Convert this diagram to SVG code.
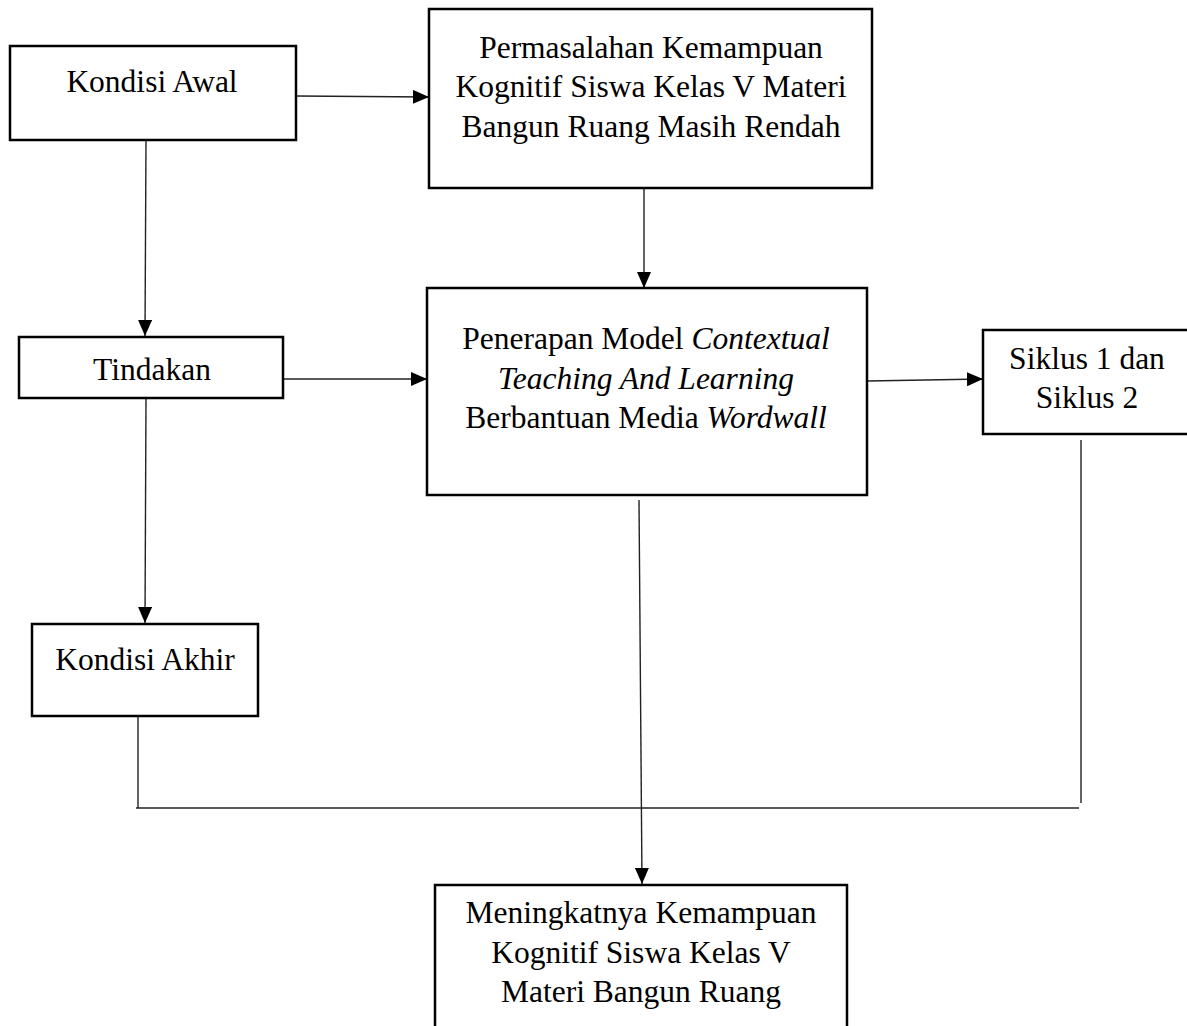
<svg xmlns="http://www.w3.org/2000/svg" width="1187" height="1026" viewBox="0 0 1187 1026">
<style>
.box{fill:#fff;stroke:#000;stroke-width:2.5}
.t{font-family:"Liberation Serif","Times New Roman",serif;font-size:31.5px;fill:#000;text-anchor:middle}
.i{font-style:italic}
.c{fill:none;stroke:#222;stroke-width:1.4}
</style>
<defs>
<marker id="ah" markerUnits="userSpaceOnUse" markerWidth="16" markerHeight="14" refX="16" refY="7" orient="auto">
<path d="M0,0 L16,7 L0,14 z" fill="#000"/>
</marker>
</defs>
<rect width="1187" height="1026" fill="#fff"/>
<g id="connectors">
<line class="c" x1="296" y1="96" x2="429" y2="97" marker-end="url(#ah)"/>
<line class="c" x1="146" y1="140" x2="145" y2="336" marker-end="url(#ah)"/>
<line class="c" x1="644" y1="188" x2="644" y2="288" marker-end="url(#ah)"/>
<line class="c" x1="283" y1="379" x2="427" y2="379" marker-end="url(#ah)"/>
<line class="c" x1="867" y1="381" x2="983" y2="379" marker-end="url(#ah)"/>
<line class="c" x1="146" y1="398" x2="145" y2="623" marker-end="url(#ah)"/>
<line class="c" x1="639" y1="500" x2="642" y2="884" marker-end="url(#ah)"/>
<line class="c" x1="138" y1="716" x2="138" y2="808"/>
<line class="c" x1="136" y1="808" x2="1079" y2="808"/>
<line class="c" x1="1081" y1="440" x2="1081" y2="803"/>
</g>
<g id="kondisi-awal">
<rect class="box" x="10" y="46" width="286" height="94"/>
<text class="t" x="152" y="92">Kondisi Awal</text>
</g>
<g id="permasalahan">
<rect class="box" x="429" y="9" width="443" height="179"/>
<text class="t" x="651" y="58">Permasalahan Kemampuan</text>
<text class="t" x="651" y="97">Kognitif Siswa Kelas V Materi</text>
<text class="t" x="651" y="137">Bangun Ruang Masih Rendah</text>
</g>
<g id="tindakan">
<rect class="box" x="19" y="337" width="264" height="61"/>
<text class="t" x="152" y="380">Tindakan</text>
</g>
<g id="penerapan">
<rect class="box" x="427" y="288" width="440" height="207"/>
<text class="t" x="646" y="349">Penerapan Model <tspan class="i">Contextual</tspan></text>
<text class="t i" x="646" y="389">Teaching And Learning</text>
<text class="t" x="646" y="428">Berbantuan Media <tspan class="i">Wordwall</tspan></text>
</g>
<g id="siklus">
<rect class="box" x="983" y="330" width="210" height="104"/>
<text class="t" x="1087" y="369">Siklus 1 dan</text>
<text class="t" x="1087" y="408">Siklus 2</text>
</g>
<g id="kondisi-akhir">
<rect class="box" x="32" y="624" width="226" height="92"/>
<text class="t" x="145" y="670">Kondisi Akhir</text>
</g>
<g id="meningkatnya">
<rect class="box" x="435" y="885" width="412" height="160"/>
<text class="t" x="641" y="923">Meningkatnya Kemampuan</text>
<text class="t" x="641" y="963">Kognitif Siswa Kelas V</text>
<text class="t" x="641" y="1002">Materi Bangun Ruang</text>
</g>
</svg>
